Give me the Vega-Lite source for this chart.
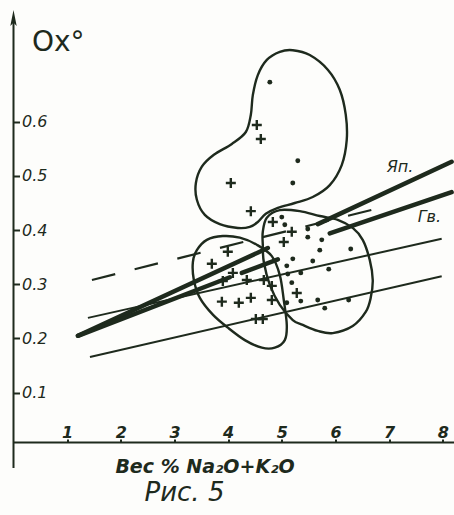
{
  "$schema": "https://vega.github.io/schema/vega-lite/v6.json",
  "width": 440,
  "height": 433,
  "autosize": {"type": "none"},
  "padding": {"left": 13.5, "top": 9, "right": 0.5, "bottom": 73},
  "background": "#fdfdfb",
  "config": {"view": {"stroke": null}, "font": "DejaVu Sans"},
  "title": {"text": "Рис. 5", "orient": "bottom", "anchor": "start", "frame": "group", "dx": 131, "offset": 4, "fontSize": 26, "fontStyle": "italic", "fontWeight": "normal", "color": "#1e2a1d", "font": "DejaVu Sans", "baseline": "top"},
  "datasets": {
    "blobs": [
      {"blob": "upper", "i": 1, "x": 5.205, "y": 0.732},
      {"blob": "upper", "i": 2, "x": 5.521, "y": 0.723},
      {"blob": "upper", "i": 3, "x": 5.857, "y": 0.696},
      {"blob": "upper", "i": 4, "x": 6.080, "y": 0.659},
      {"blob": "upper", "i": 5, "x": 6.192, "y": 0.613},
      {"blob": "upper", "i": 6, "x": 6.210, "y": 0.566},
      {"blob": "upper", "i": 7, "x": 6.117, "y": 0.520},
      {"blob": "upper", "i": 8, "x": 5.894, "y": 0.483},
      {"blob": "upper", "i": 9, "x": 5.577, "y": 0.461},
      {"blob": "upper", "i": 10, "x": 5.242, "y": 0.450},
      {"blob": "upper", "i": 11, "x": 4.926, "y": 0.441},
      {"blob": "upper", "i": 12, "x": 4.702, "y": 0.430},
      {"blob": "upper", "i": 13, "x": 4.553, "y": 0.415},
      {"blob": "upper", "i": 14, "x": 4.404, "y": 0.406},
      {"blob": "upper", "i": 15, "x": 4.181, "y": 0.404},
      {"blob": "upper", "i": 16, "x": 3.845, "y": 0.411},
      {"blob": "upper", "i": 17, "x": 3.566, "y": 0.428},
      {"blob": "upper", "i": 18, "x": 3.417, "y": 0.456},
      {"blob": "upper", "i": 19, "x": 3.399, "y": 0.487},
      {"blob": "upper", "i": 20, "x": 3.510, "y": 0.517},
      {"blob": "upper", "i": 21, "x": 3.734, "y": 0.539},
      {"blob": "upper", "i": 22, "x": 4.069, "y": 0.559},
      {"blob": "upper", "i": 23, "x": 4.330, "y": 0.581},
      {"blob": "upper", "i": 24, "x": 4.423, "y": 0.613},
      {"blob": "upper", "i": 25, "x": 4.460, "y": 0.649},
      {"blob": "upper", "i": 26, "x": 4.553, "y": 0.686},
      {"blob": "upper", "i": 27, "x": 4.721, "y": 0.714},
      {"blob": "upper", "i": 28, "x": 4.963, "y": 0.729},
      {"blob": "left", "i": 1, "x": 3.343, "y": 0.341},
      {"blob": "left", "i": 2, "x": 3.417, "y": 0.363},
      {"blob": "left", "i": 3, "x": 3.603, "y": 0.382},
      {"blob": "left", "i": 4, "x": 3.901, "y": 0.389},
      {"blob": "left", "i": 5, "x": 4.218, "y": 0.386},
      {"blob": "left", "i": 6, "x": 4.534, "y": 0.373},
      {"blob": "left", "i": 7, "x": 4.814, "y": 0.352},
      {"blob": "left", "i": 8, "x": 4.963, "y": 0.317},
      {"blob": "left", "i": 9, "x": 5.037, "y": 0.271},
      {"blob": "left", "i": 10, "x": 5.093, "y": 0.225},
      {"blob": "left", "i": 11, "x": 5.056, "y": 0.197},
      {"blob": "left", "i": 12, "x": 4.870, "y": 0.183},
      {"blob": "left", "i": 13, "x": 4.628, "y": 0.183},
      {"blob": "left", "i": 14, "x": 4.311, "y": 0.197},
      {"blob": "left", "i": 15, "x": 3.994, "y": 0.220},
      {"blob": "left", "i": 16, "x": 3.715, "y": 0.244},
      {"blob": "left", "i": 17, "x": 3.473, "y": 0.275},
      {"blob": "left", "i": 18, "x": 3.361, "y": 0.308},
      {"blob": "right", "i": 1, "x": 4.646, "y": 0.397},
      {"blob": "right", "i": 2, "x": 4.721, "y": 0.423},
      {"blob": "right", "i": 3, "x": 4.963, "y": 0.437},
      {"blob": "right", "i": 4, "x": 5.335, "y": 0.435},
      {"blob": "right", "i": 5, "x": 5.708, "y": 0.426},
      {"blob": "right", "i": 6, "x": 6.043, "y": 0.419},
      {"blob": "right", "i": 7, "x": 6.322, "y": 0.404},
      {"blob": "right", "i": 8, "x": 6.508, "y": 0.382},
      {"blob": "right", "i": 9, "x": 6.639, "y": 0.345},
      {"blob": "right", "i": 10, "x": 6.695, "y": 0.308},
      {"blob": "right", "i": 11, "x": 6.657, "y": 0.275},
      {"blob": "right", "i": 12, "x": 6.564, "y": 0.249},
      {"blob": "right", "i": 13, "x": 6.322, "y": 0.223},
      {"blob": "right", "i": 14, "x": 5.950, "y": 0.210},
      {"blob": "right", "i": 15, "x": 5.670, "y": 0.214},
      {"blob": "right", "i": 16, "x": 5.391, "y": 0.225},
      {"blob": "right", "i": 17, "x": 5.205, "y": 0.234},
      {"blob": "right", "i": 18, "x": 4.963, "y": 0.262},
      {"blob": "right", "i": 19, "x": 4.777, "y": 0.299},
      {"blob": "right", "i": 20, "x": 4.665, "y": 0.341},
      {"blob": "right", "i": 21, "x": 4.646, "y": 0.373}
    ],
    "lines": [
      {"kind": "thick", "seg": "Яп-a", "x": 1.201, "y": 0.205},
      {"kind": "thick", "seg": "Яп-a", "x": 4.739, "y": 0.367},
      {"kind": "thick", "seg": "Яп-b", "x": 5.670, "y": 0.411},
      {"kind": "thick", "seg": "Яп-b", "x": 8.165, "y": 0.526},
      {"kind": "thick", "seg": "Гв-a", "x": 1.201, "y": 0.205},
      {"kind": "thick", "seg": "Гв-a", "x": 4.032, "y": 0.313},
      {"kind": "thick", "seg": "Гв-b", "x": 4.255, "y": 0.321},
      {"kind": "thick", "seg": "Гв-b", "x": 4.926, "y": 0.346},
      {"kind": "thick", "seg": "Гв-c", "x": 5.894, "y": 0.394},
      {"kind": "thick", "seg": "Гв-c", "x": 8.165, "y": 0.470},
      {"kind": "thin", "seg": "A", "x": 1.387, "y": 0.238},
      {"kind": "thin", "seg": "A", "x": 7.980, "y": 0.384},
      {"kind": "thin", "seg": "B", "x": 1.425, "y": 0.166},
      {"kind": "thin", "seg": "B", "x": 7.980, "y": 0.315},
      {"kind": "dashed", "seg": "D", "x": 1.462, "y": 0.308},
      {"kind": "dashed", "seg": "D", "x": 6.862, "y": 0.442}
    ],
    "points": [
      {"type": "cross", "x": 4.534, "y": 0.594},
      {"type": "cross", "x": 4.609, "y": 0.568},
      {"type": "cross", "x": 4.050, "y": 0.487},
      {"type": "cross", "x": 4.423, "y": 0.435},
      {"type": "cross", "x": 4.833, "y": 0.415},
      {"type": "cross", "x": 5.186, "y": 0.397},
      {"type": "cross", "x": 5.037, "y": 0.378},
      {"type": "cross", "x": 3.994, "y": 0.360},
      {"type": "cross", "x": 3.696, "y": 0.338},
      {"type": "cross", "x": 4.088, "y": 0.321},
      {"type": "cross", "x": 3.901, "y": 0.306},
      {"type": "cross", "x": 4.348, "y": 0.308},
      {"type": "cross", "x": 4.665, "y": 0.308},
      {"type": "cross", "x": 4.814, "y": 0.297},
      {"type": "cross", "x": 5.279, "y": 0.284},
      {"type": "cross", "x": 3.883, "y": 0.268},
      {"type": "cross", "x": 4.199, "y": 0.266},
      {"type": "cross", "x": 4.423, "y": 0.275},
      {"type": "cross", "x": 4.814, "y": 0.271},
      {"type": "cross", "x": 4.516, "y": 0.236},
      {"type": "cross", "x": 4.646, "y": 0.236},
      {"type": "dot", "x": 4.777, "y": 0.673},
      {"type": "dot", "x": 5.298, "y": 0.528},
      {"type": "dot", "x": 5.205, "y": 0.487},
      {"type": "dot", "x": 5.000, "y": 0.424},
      {"type": "dot", "x": 5.056, "y": 0.410},
      {"type": "dot", "x": 5.484, "y": 0.402},
      {"type": "dot", "x": 5.484, "y": 0.387},
      {"type": "dot", "x": 5.745, "y": 0.382},
      {"type": "dot", "x": 5.708, "y": 0.363},
      {"type": "dot", "x": 6.285, "y": 0.365},
      {"type": "dot", "x": 5.205, "y": 0.347},
      {"type": "dot", "x": 5.577, "y": 0.343},
      {"type": "dot", "x": 5.875, "y": 0.328},
      {"type": "dot", "x": 5.093, "y": 0.334},
      {"type": "dot", "x": 5.354, "y": 0.321},
      {"type": "dot", "x": 5.112, "y": 0.319},
      {"type": "dot", "x": 5.186, "y": 0.303},
      {"type": "dot", "x": 5.093, "y": 0.266},
      {"type": "dot", "x": 5.354, "y": 0.269},
      {"type": "dot", "x": 5.670, "y": 0.271},
      {"type": "dot", "x": 5.801, "y": 0.256},
      {"type": "dot", "x": 6.246, "y": 0.271}
    ],
    "labels": [
      {"label": "Яп.", "x": 6.955, "y": 0.517},
      {"label": "Гв.", "x": 7.533, "y": 0.424}
    ],
    "yaxis": [
      {"x": 0, "y": -0.039, "y2": 0.785}
    ],
    "arrow": [
      {"x": 0, "y": 0.7915}
    ]
  },
  "encoding": {
    "x": {
      "field": "x", "type": "quantitative",
      "scale": {"domain": [0, 8.2], "nice": false, "zero": false},
      "axis": {
        "values": [1, 2, 3, 4, 5, 6, 7, 8], "format": "d", "grid": false,
        "domain": true, "domainColor": "#1e2a1d", "domainWidth": 2,
        "ticks": true, "tickSize": -3, "tickWidth": 2, "tickColor": "#1e2a1d",
        "labelPadding": -2, "labelBaseline": "alphabetic", "labelFontSize": 16,
        "labelFontStyle": "italic", "labelFontWeight": "bold", "labelColor": "#1e2a1d",
        "labelFlush": false, "labelOverlap": false,
        "title": "Вес % Na₂O+K₂O", "titleX": 191, "titleY": 30,
        "titleAlign": "center", "titleBaseline": "alphabetic", "titleFontSize": 19,
        "titleFontStyle": "italic", "titleFontWeight": "bold", "titleColor": "#1e2a1d"
      }
    },
    "y": {
      "field": "y", "type": "quantitative",
      "scale": {"domain": [0.009, 0.808], "nice": false, "zero": false},
      "axis": {
        "values": [0.1, 0.2, 0.3, 0.4, 0.5, 0.6], "format": ".1f", "grid": false,
        "domain": false,
        "ticks": true, "tickSize": -6, "tickWidth": 2, "tickColor": "#1e2a1d",
        "labelAlign": "left", "labelPadding": -2, "labelBaseline": "middle",
        "labelFontSize": 16, "labelFontStyle": "italic", "labelColor": "#1e2a1d",
        "labelFlush": false, "labelOverlap": false,
        "title": "Ox°", "titleAngle": 0, "titleX": 18, "titleY": 41,
        "titleAlign": "left", "titleBaseline": "alphabetic", "titleFontSize": 28,
        "titleFontWeight": "normal", "titleColor": "#1e2a1d"
      }
    }
  },
  "layer": [
    {
      "data": {"name": "blobs"},
      "mark": {"type": "line", "interpolate": "cardinal-closed", "color": "#1e2a1d", "strokeWidth": 2.4},
      "encoding": {"detail": {"field": "blob"}, "order": {"field": "i", "type": "quantitative"}}
    },
    {
      "data": {"name": "lines"},
      "transform": [{"filter": "datum.kind === 'thick'"}],
      "mark": {"type": "line", "color": "#1e2a1d", "strokeWidth": 4.5, "strokeCap": "round"},
      "encoding": {"detail": {"field": "seg"}}
    },
    {
      "data": {"name": "lines"},
      "transform": [{"filter": "datum.kind === 'thin'"}],
      "mark": {"type": "line", "color": "#1e2a1d", "strokeWidth": 2},
      "encoding": {"detail": {"field": "seg"}}
    },
    {
      "data": {"name": "lines"},
      "transform": [{"filter": "datum.kind === 'dashed'"}],
      "mark": {"type": "line", "color": "#1e2a1d", "strokeWidth": 2.2, "strokeDash": [24, 20]},
      "encoding": {"detail": {"field": "seg"}}
    },
    {
      "data": {"name": "points"},
      "transform": [{"filter": "datum.type === 'cross'"}],
      "mark": {"type": "point", "shape": "M-1,0L1,0M0,-1L0,1", "filled": false, "color": "#1e2a1d", "strokeWidth": 2.4, "size": 100, "opacity": 1}
    },
    {
      "data": {"name": "points"},
      "transform": [{"filter": "datum.type === 'dot'"}],
      "mark": {"type": "circle", "color": "#1e2a1d", "size": 24, "opacity": 1}
    },
    {
      "data": {"name": "labels"},
      "mark": {"type": "text", "align": "left", "baseline": "middle", "fontSize": 16, "fontStyle": "italic", "color": "#1e2a1d"},
      "encoding": {"text": {"field": "label"}}
    },
    {
      "data": {"name": "yaxis"},
      "mark": {"type": "rule", "color": "#1e2a1d", "strokeWidth": 2},
      "encoding": {"y2": {"field": "y2"}}
    },
    {
      "data": {"name": "arrow"},
      "mark": {"type": "point", "shape": "M0,-1L-0.4,1L0,0.6L0.4,1Z", "filled": true, "color": "#1e2a1d", "size": 256, "opacity": 1}
    }
  ]
}
